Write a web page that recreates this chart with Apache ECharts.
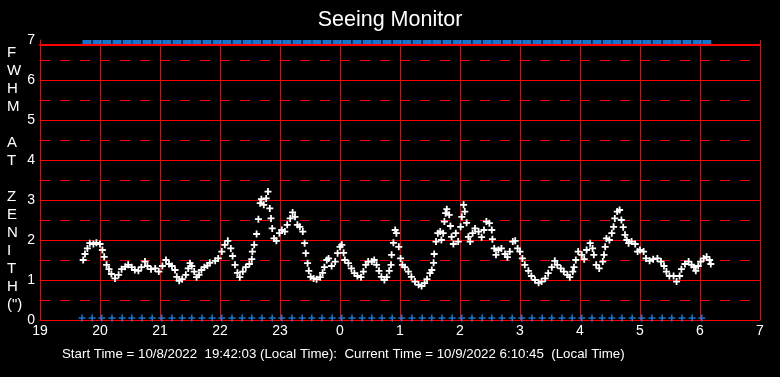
<!DOCTYPE html>
<html>
<head>
<meta charset="utf-8">
<title>Seeing Monitor</title>
<script src="https://cdn.jsdelivr.net/npm/echarts@6/dist/echarts.min.js"></script>
<style>
  html, body { margin: 0; padding: 0; background: #000; }
  #seeing { width: 780px; height: 377px; }
</style>
</head>
<body>
<div id="seeing"></div>
<script>
// hours since midnight of 10/8 (24 = 0h on 10/9)
const seeingHours = [
  19.72, 19.75, 19.79, 19.83, 19.89, 19.94, 20.00, 20.04, 20.07, 20.11, 20.15, 20.19, 20.25, 20.31, 20.36,
  20.42, 20.47, 20.53, 20.58, 20.64, 20.69, 20.75, 20.79, 20.85, 20.92, 20.98, 21.04, 21.10, 21.15, 21.20,
  21.25, 21.28, 21.32, 21.37, 21.43, 21.47, 21.50, 21.53, 21.57, 21.61, 21.65, 21.69, 21.74, 21.79, 21.83,
  21.92, 21.97, 22.03, 22.08, 22.13, 22.18, 22.21, 22.25, 22.29, 22.33, 22.38, 22.43, 22.49, 22.53, 22.54,
  22.57, 22.61, 22.64, 22.67, 22.69, 22.73, 22.77, 22.80, 22.83, 22.85, 22.87, 22.90, 22.94, 22.99, 23.03,
  23.08, 23.12, 23.17, 23.21, 23.25, 23.29, 23.33, 23.38, 23.41, 23.43, 23.46, 23.48, 23.51, 23.56, 23.61,
  23.67, 23.71, 23.74, 23.78, 23.81, 23.86, 23.92, 23.96, 24.00, 24.03, 24.06, 24.08, 24.14, 24.19, 24.24,
  24.29, 24.35, 24.39, 24.43, 24.47, 24.53, 24.57, 24.61, 24.65, 24.69, 24.74, 24.78, 24.82, 24.85, 24.86,
  24.89, 24.92, 24.94, 24.98, 25.01, 25.04, 25.08, 25.14, 25.19, 25.25, 25.31, 25.36, 25.41, 25.45, 25.50,
  25.53, 25.56, 25.57, 25.60, 25.63, 25.67, 25.69, 25.72, 25.74, 25.76, 25.78, 25.82, 25.84, 25.86, 25.89,
  25.93, 25.97, 26.01, 26.03, 26.06, 26.08, 26.11, 26.14, 26.17, 26.21, 26.25, 26.31, 26.36, 26.40, 26.44,
  26.49, 26.53, 26.54, 26.57, 26.60, 26.64, 26.69, 26.75, 26.79, 26.83, 26.88, 26.92, 26.96, 27.00, 27.04,
  27.08, 27.14, 27.19, 27.25, 27.31, 27.36, 27.42, 27.47, 27.53, 27.58, 27.62, 27.68, 27.73, 27.79, 27.83,
  27.88, 27.90, 27.93, 27.97, 28.03, 28.07, 28.11, 28.17, 28.21, 28.23, 28.27, 28.32, 28.38, 28.40, 28.42,
  28.44, 28.49, 28.53, 28.56, 28.58, 28.62, 28.66, 28.69, 28.72, 28.75, 28.78, 28.81, 28.86, 28.92, 28.96,
  29.00, 29.06, 29.10, 29.16, 29.22, 29.29, 29.35, 29.40, 29.44, 29.49, 29.56, 29.61, 29.66, 29.69, 29.75,
  29.81, 29.86, 29.90, 29.93, 29.97, 30.01, 30.06, 30.11, 30.16, 30.18
];
const seeingFwhm = [
  1.50, 1.65, 1.79, 1.92, 1.90, 1.93, 1.90, 1.75, 1.58, 1.38, 1.27, 1.15, 1.04, 1.13, 1.27,
  1.33, 1.38, 1.32, 1.25, 1.23, 1.32, 1.46, 1.35, 1.27, 1.29, 1.21, 1.35, 1.50, 1.40, 1.35,
  1.25, 1.08, 0.98, 1.02, 1.13, 1.29, 1.42, 1.35, 1.21, 1.07, 1.13, 1.25, 1.32, 1.36, 1.43,
  1.48, 1.54, 1.71, 1.88, 1.98, 1.79, 1.60, 1.38, 1.18, 1.07, 1.21, 1.32, 1.40, 1.52, 1.71,
  1.88, 2.15, 2.52, 2.92, 3.02, 2.88, 3.04, 3.21, 2.79, 2.54, 2.29, 2.04, 1.98, 2.17, 2.25,
  2.21, 2.38, 2.54, 2.69, 2.58, 2.38, 2.33, 2.21, 1.92, 1.67, 1.42, 1.23, 1.08, 1.04, 1.02,
  1.07, 1.18, 1.32, 1.50, 1.54, 1.35, 1.46, 1.67, 1.83, 1.88, 1.68, 1.50, 1.42, 1.29, 1.17,
  1.10, 1.07, 1.21, 1.38, 1.46, 1.46, 1.50, 1.38, 1.23, 1.08, 1.00, 1.07, 1.23, 1.38, 1.63,
  1.93, 2.25, 2.17, 1.83, 1.54, 1.38, 1.32, 1.21, 1.08, 0.96, 0.88, 0.85, 0.92, 1.02, 1.17,
  1.25, 1.43, 1.65, 1.96, 2.17, 2.21, 2.00, 2.17, 2.46, 2.67, 2.77, 2.63, 2.35, 2.08, 1.90,
  2.17, 1.96, 2.33, 2.58, 2.88, 2.71, 2.43, 2.08, 1.96, 2.17, 2.29, 2.21, 2.07, 2.25, 2.46,
  2.42, 2.25, 2.02, 1.79, 1.63, 1.75, 1.79, 1.65, 1.57, 1.71, 1.96, 1.98, 1.79, 1.71, 1.54,
  1.38, 1.23, 1.10, 1.00, 0.93, 0.96, 1.04, 1.17, 1.32, 1.48, 1.38, 1.29, 1.21, 1.13, 1.07,
  1.21, 1.32, 1.50, 1.71, 1.63, 1.52, 1.75, 1.92, 1.79, 1.63, 1.38, 1.29, 1.46, 1.63, 1.83,
  2.04, 2.00, 2.17, 2.33, 2.54, 2.71, 2.75, 2.50, 2.32, 2.13, 2.00, 1.92, 1.96, 1.90, 1.71,
  1.75, 1.71, 1.54, 1.48, 1.52, 1.54, 1.46, 1.35, 1.21, 1.10, 1.10, 0.96, 1.10, 1.27, 1.40,
  1.46, 1.38, 1.32, 1.23, 1.35, 1.46, 1.54, 1.58, 1.50, 1.40
];
// status markers drawn every 10 minutes on the top and bottom edges
const statusHours = [
  19.70, 19.87, 20.03, 20.20, 20.37, 20.53, 20.70, 20.87, 21.03, 21.20, 21.37, 21.53, 21.70, 21.87,
  22.03, 22.20, 22.37, 22.53, 22.70, 22.87, 23.03, 23.20, 23.37, 23.53, 23.70, 23.87, 24.03, 24.20,
  24.37, 24.53, 24.70, 24.87, 25.03, 25.20, 25.37, 25.53, 25.70, 25.87, 26.03, 26.20, 26.37, 26.53,
  26.70, 26.87, 27.03, 27.20, 27.37, 27.53, 27.70, 27.87, 28.03, 28.20, 28.37, 28.53, 28.70, 28.87,
  29.03, 29.20, 29.37, 29.53, 29.70, 29.87, 30.03
];
const xTickLabels = ["19", "20", "21", "22", "23", "0", "1", "2", "3", "4", "5", "6", "7"];
const yAxisLetters = ["F", "W", "H", "M", " ", "A", "T", " ", "Z", "E", "N", "I", "T", "H", "(\")"];
const footerText = "Start Time = 10/8/2022  19:42:03 (Local Time):  Current Time = 10/9/2022 6:10:45  (Local Time)";

// open plus sign, drawn by stroke only
const plusPath = "path://M4,0L4,8M0,4L8,4";
const red = "#ff0000";
const blue = "#1e90ff";
const font = "Liberation Sans";

let myChart = echarts.init(document.getElementById("seeing"));
let option;
option = {
  backgroundColor: "#000",
  animation: false,
  title: [
    {
      text: "Seeing Monitor",
      left: "center",
      top: 9,
      padding: 0,
      textStyle: { color: "#fff", fontSize: 21.5, fontWeight: "normal", fontFamily: font },
    },
    {
      text: yAxisLetters.join("\n"),
      left: 7,
      top: 44,
      padding: 0,
      textStyle: { color: "#fff", fontSize: 15, lineHeight: 18, fontWeight: "normal", fontFamily: font },
    },
    {
      text: footerText,
      left: 62,
      top: 348,
      padding: 0,
      textStyle: { color: "#fff", fontSize: 13.3, fontWeight: "normal", fontFamily: font },
    },
  ],
  grid: { left: 40, right: 20, top: 40, bottom: 57, containLabel: false },
  xAxis: [
    {
      type: "value",
      min: 19,
      max: 31,
      interval: 1,
      axisLine: { show: true, lineStyle: { color: red, width: 1 } },
      axisTick: { show: false },
      axisLabel: {
        color: "#fff",
        fontSize: 14,
        fontFamily: font,
        margin: 4,
        formatter: (v) => xTickLabels[Math.round(v - 19)],
      },
      splitLine: { show: true, lineStyle: { color: red, width: 1 } },
    },
    {
      // top edge of the frame, a few pixels under the 7 line
      type: "value",
      position: "top",
      offset: -5,
      min: 19,
      max: 31,
      axisLine: { show: true, onZero: false, lineStyle: { color: red, width: 2, opacity: 1 } },
      axisTick: { show: false },
      axisLabel: { show: false },
      splitLine: { show: false },
    },
  ],
  yAxis: {
    type: "value",
    min: 0,
    max: 7,
    interval: 1,
    axisLine: { show: true, lineStyle: { color: red, width: 1 } },
    axisTick: { show: false },
    axisLabel: { color: "#fff", fontSize: 14, fontFamily: font, margin: 5 },
    splitLine: { show: true, showMaxLine: false, lineStyle: { color: red, width: 1 } },
    minorTick: { show: false, splitNumber: 2 },
    minorSplitLine: { show: true, lineStyle: { color: red, width: 1, type: [10, 10] } },
  },
  series: [
    {
      name: "FWHM",
      type: "scatter",
      symbol: plusPath,
      symbolSize: 7,
      itemStyle: { color: "none", borderColor: "#fff", borderWidth: 1.8, opacity: 1 },
      data: seeingHours.map((h, i) => [h, seeingFwhm[i]]),
      z: 5,
    },
    {
      name: "status top",
      type: "scatter",
      symbol: "rect",
      symbolSize: [9, 4],
      symbolOffset: [5, 2],
      itemStyle: { color: blue },
      data: statusHours.map((h) => [h, 7]),
      clip: false,
      z: 6,
    },
    {
      name: "status bottom",
      type: "scatter",
      symbol: plusPath,
      symbolSize: 7,
      symbolOffset: [0, -2],
      itemStyle: { color: "none", borderColor: blue, borderWidth: 1.6 },
      data: statusHours.map((h) => [h, 0]),
      z: 6,
    },
  ],
};
myChart.setOption(option);
</script>
</body>
</html>
